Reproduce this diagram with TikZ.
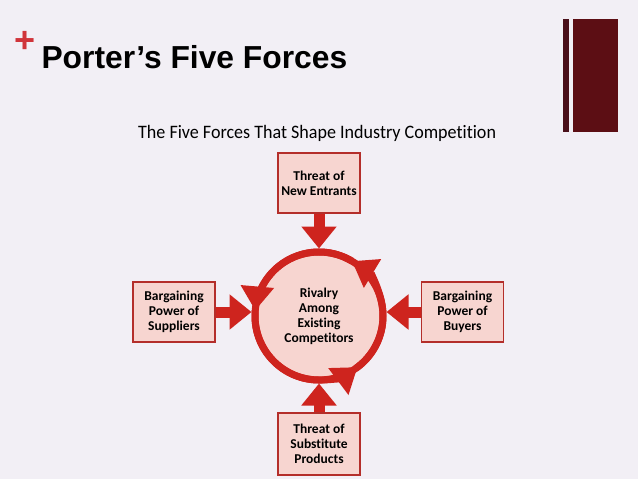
\documentclass[tikz,border=0pt]{standalone}
\usepackage{fontspec}
\setmainfont{Liberation Sans}
\newfontfamily\condfont{Carlito}[Ligatures=CommonOff]
\newfontfamily\narrowfont{Carlito}[Ligatures=CommonOff,FakeStretch=0.95]
\usetikzlibrary{arrows.meta,positioning}
\definecolor{slideBg}{RGB}{242,239,245}
\definecolor{forceRed}{RGB}{206,36,30}
\definecolor{boxLine}{RGB}{180,46,42}
\definecolor{boxFill}{RGB}{247,213,208}
\definecolor{barDark}{RGB}{74,16,26}
\definecolor{barRed}{RGB}{92,14,20}
\definecolor{plusRed}{RGB}{208,52,58}

\begin{document}
\begin{tikzpicture}[x=1pt,y=1pt,
  forcebox/.style={draw=boxLine,line width=1.6pt,fill=boxFill,
    minimum width=82pt,minimum height=60pt,align=center,
    font=\condfont\bfseries\fontsize{13.5}{15}\selectfont,text=black},
  push/.style={-{Triangle[length=22pt,width=34pt]},line width=11pt,forceRed},
  turn/.style={-{Triangle[length=24pt,width=32pt]},line width=7pt,forceRed}]
  \path[use as bounding box,fill=slideBg] (0,0) rectangle (638,-479);
  % heading
  \node[text=plusRed,font=\bfseries\fontsize{36}{36}\selectfont] (plus) at (25,-42) {+};
  \node[anchor=base west,font=\bfseries\fontsize{31.8}{36}\selectfont] (title) at (38,-68) {Porter’s Five Forces};
  \fill[barDark] (563,-19) rectangle (569,-132);
  \fill[barRed] (573,-19) rectangle (618,-132);
  \node[anchor=base west,inner sep=0pt,font=\narrowfont\fontsize{19}{22}\selectfont] (subtitle) at (138,-138)
    {The Five Forces That Shape Industry Competition};
  % the five forces
  \node[circle,draw=forceRed,line width=7pt,fill=boxFill,minimum size=128pt,align=center,
    font=\condfont\bfseries\fontsize{13.5}{15}\selectfont,text=black] (rivalry) at (319,-316)
    {Rivalry\\Among\\Existing\\Competitors};
  \node[forcebox] (entrants) at (319,-183) {Threat of\\New Entrants};
  \node[forcebox] (suppliers) at (174,-312) {Bargaining\\Power of\\Suppliers};
  \node[forcebox] (buyers) at (462.5,-312) {Bargaining\\Power of\\Buyers};
  \node[forcebox,minimum height=62pt] (substitutes) at (319,-444) {Threat of\\Substitute\\Products};
  \foreach \s/\e in {305/419,59/175,175/307}
    \draw[turn] ([shift={(\s:64)}]rivalry.center) arc[start angle=\s,end angle=\e,radius=64];
  \draw[push] (entrants) -- (rivalry);
  \draw[push] (substitutes) -- (rivalry);
  \draw[push] (suppliers) -- (suppliers -| rivalry.west);
  \draw[push] (buyers) -- (buyers -| rivalry.east);
\end{tikzpicture}
\end{document}
